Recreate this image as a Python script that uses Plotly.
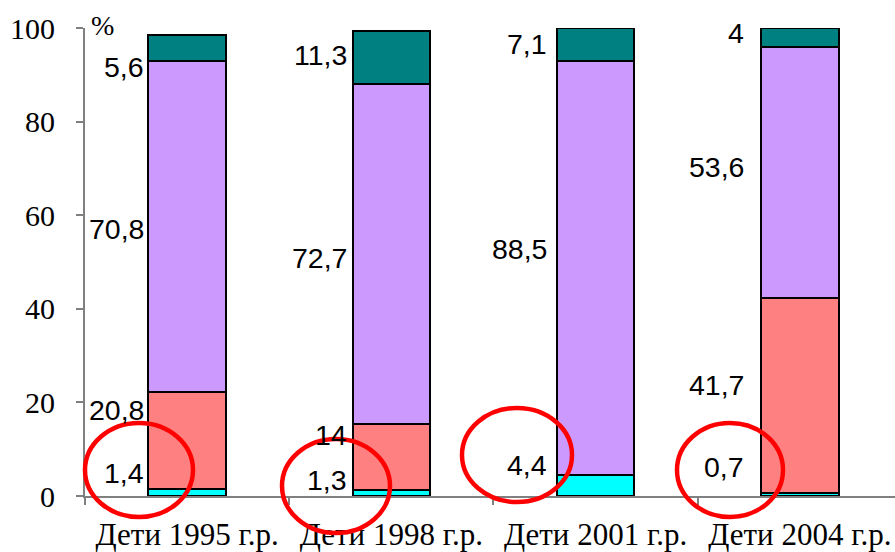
import plotly.graph_objects as go

categories = ["Дети 1995 г.р.", "Дети 1998 г.р.", "Дети 2001 г.р.", "Дети 2004 г.р."]
s_cyan = [1.4, 1.3, 4.4, 0.7]
s_red = [20.8, 14.0, 0.0, 41.7]
s_lav = [70.8, 72.7, 88.5, 53.6]
s_teal = [5.6, 11.3, 7.1, 4.0]
y_ticks = [0, 20, 40, 60, 80, 100]

# label text positions (value-axis units) as placed in the original
lab_cyan_y = [4.9, 3.4, 6.6, 6.2]
lab_red_y = [18.4, 13.0, None, 23.7]
lab_lav_y = [57.1, 50.9, 52.8, 70.3]
lab_teal_y = [91.7, 94.2, 96.5, 98.9]
lab_gap = [2, 4, 8, 15]

colors = ["#00FFFF", "#FF8080", "#CC99FF", "#008080"]
series = [s_cyan, s_red, s_lav, s_teal]
labels_y = [lab_cyan_y, lab_red_y, lab_lav_y, lab_teal_y]

BW = 0.38
xs = list(range(len(categories)))

SERIF = "Liberation Serif"
SANS = "Liberation Sans"

fig = go.Figure()
for vals, col in zip(series, colors):
    fig.add_trace(go.Bar(
        x=xs, y=vals, width=BW,
        marker=dict(color=col, line=dict(color="black", width=2.5)),
        hoverinfo="skip", showlegend=False,
    ))

def fmt(v):
    return ("%g" % v).replace(".", ",")

ann = []
for vals, ly in zip(series, labels_y):
    for i, (v, yy) in enumerate(zip(vals, ly)):
        if yy is None or v == 0:
            continue
        ann.append(dict(
            x=i - BW / 2, y=yy, xref="x", yref="y", text=fmt(v),
            showarrow=False, xanchor="right", yanchor="middle",
            xshift=-lab_gap[i],
            font=dict(family=SANS, size=28.5, color="black"),
        ))
ann.append(dict(x=0, y=100, xref="paper", yref="y", text="%", showarrow=False,
                xanchor="left", yanchor="middle", xshift=4, yshift=3,
                font=dict(family=SERIF, size=28, color="black")))

# red hand-drawn ellipses: pixel boxes converted to paper fractions
L, R, T, B = 85, 895, 28, 496
def px2x(p):
    return (p - L) / (R - L)

def px2y(p):
    return (B - p) / (B - T)

ellipses = [(85, 423, 193, 517), (282, 439, 390, 533), (462, 408, 572, 502), (677, 423, 783, 517)]
shapes = []
for (x0, y0, x1, y1) in ellipses:
    shapes.append(dict(type="circle", xref="paper", yref="paper",
                       x0=px2x(x0), x1=px2x(x1), y0=px2y(y1), y1=px2y(y0),
                       line=dict(color="#FF0000", width=4.5), layer="above"))

fig.update_layout(
    width=895, height=552,
    margin=dict(l=L, r=895 - R, t=T, b=552 - B),
    paper_bgcolor="white", plot_bgcolor="white",
    barmode="stack", bargap=0,
    annotations=ann, shapes=shapes,
    xaxis=dict(
        range=[-0.5, 3.466], tickvals=xs, ticktext=categories,
        showgrid=False, zeroline=False,
        showline=True, linecolor="#808080", linewidth=2,
        ticks="", tickfont=dict(family=SERIF, size=31, color="black"),
        ticklabelstandoff=10,
        minor=dict(tick0=0.5, dtick=1, ticks="outside", ticklen=7, tickcolor="#808080", tickwidth=1.5),
    ),
    yaxis=dict(
        range=[0, 100], tickvals=y_ticks, ticktext=[str(t) for t in y_ticks],
        showgrid=False, zeroline=False,
        showline=True, linecolor="#808080", linewidth=2,
        ticks="outside", ticklen=7, tickcolor="#808080", tickwidth=1.5,
        tickfont=dict(family="Liberation Serif, serif", size=30, color="black"),
        ticklabelstandoff=15,
    ),
)

fig.write_html("out.html", config={"displayModeBar": False},
               post_script="document.body.style.margin='0';document.body.style.padding='0';")
